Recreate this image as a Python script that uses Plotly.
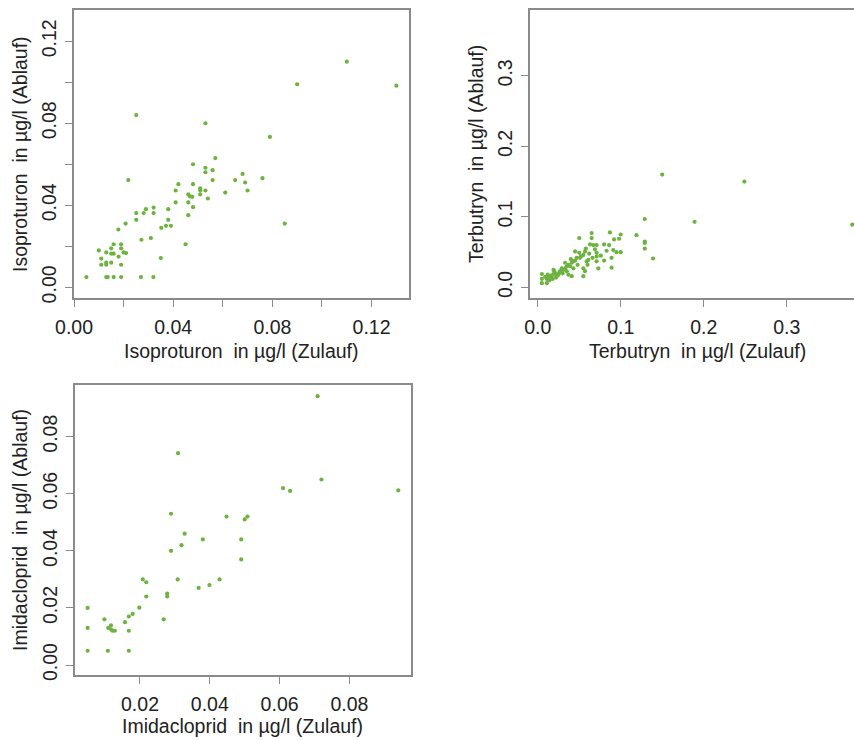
import plotly.graph_objects as go

# ---- data: Isoproturon (Zulauf, Ablauf) in µg/l ----
iso_zulauf = [0.005, 0.013, 0.0136, 0.016, 0.019, 0.027, 0.032,
              0.010, 0.013, 0.015, 0.016, 0.019, 0.019, 0.020, 0.021, 0.016, 0.015, 0.018, 0.011, 0.011, 0.013, 0.013, 0.015, 0.019,
              0.035, 0.0179, 0.0208, 0.0272, 0.031, 0.045, 0.0251, 0.038, 0.0352, 0.0371, 0.0391, 0.0251, 0.0281, 0.0321,
              0.029, 0.0321, 0.038, 0.048, 0.0461, 0.041, 0.0461, 0.054, 0.0461, 0.0468, 0.0477, 0.0509, 0.041, 0.0509,
              0.0509, 0.053, 0.0421, 0.048, 0.0219, 0.0559, 0.053, 0.053, 0.0559, 0.048, 0.057, 0.061, 0.065, 0.068, 0.069,
              0.070, 0.076, 0.079, 0.085, 0.0251, 0.053, 0.090, 0.110, 0.130]
iso_ablauf = [0.005, 0.005, 0.005, 0.005, 0.005, 0.005, 0.005,
              0.018, 0.017, 0.019, 0.021, 0.021, 0.019, 0.017, 0.0167, 0.0164, 0.0164, 0.015, 0.014, 0.011, 0.012, 0.011, 0.012, 0.011,
              0.0143, 0.0282, 0.0311, 0.0232, 0.024, 0.021, 0.0329, 0.0329, 0.029, 0.030, 0.030, 0.0362, 0.0362, 0.0362,
              0.0381, 0.0389, 0.0381, 0.0391, 0.0352, 0.0414, 0.0414, 0.0433, 0.0453, 0.0443, 0.0441, 0.0453, 0.0472, 0.0482,
              0.0472, 0.0472, 0.0503, 0.0503, 0.0523, 0.0523, 0.0583, 0.0561, 0.0571, 0.060, 0.063, 0.0462, 0.0523, 0.0553, 0.0511,
              0.0472, 0.0532, 0.0733, 0.0311, 0.084, 0.080, 0.099, 0.110, 0.0983]

# ---- data: Terbutryn (Zulauf, Ablauf) in µg/l ----
ter_zulauf = [0.005, 0.005, 0.005, 0.011, 0.011, 0.013, 0.015, 0.017, 0.019, 0.021, 0.019, 0.020, 0.023, 0.025, 0.012,
              0.016, 0.018, 0.014, 0.022, 0.009,
              0.027, 0.029, 0.031, 0.033, 0.035, 0.037, 0.039, 0.041, 0.043, 0.045, 0.035, 0.037, 0.041, 0.043, 0.047,
              0.050, 0.051, 0.055, 0.057, 0.059, 0.055, 0.057, 0.055, 0.060, 0.061, 0.063, 0.065, 0.065, 0.067, 0.071,
              0.071, 0.071, 0.066, 0.071, 0.073, 0.080, 0.080, 0.086, 0.087, 0.089, 0.089, 0.091, 0.092, 0.095, 0.098,
              0.100, 0.100, 0.050, 0.045, 0.052, 0.030, 0.026, 0.033, 0.040, 0.048, 0.062, 0.058, 0.069, 0.076, 0.083,
              0.119, 0.129, 0.129, 0.129, 0.129, 0.139, 0.150, 0.189, 0.249, 0.379]
ter_ablauf = [0.019, 0.012, 0.006, 0.006, 0.012, 0.014, 0.016, 0.017, 0.019, 0.020, 0.025, 0.023, 0.016, 0.018, 0.018,
              0.013, 0.012, 0.010, 0.014, 0.015,
              0.023, 0.027, 0.025, 0.027, 0.030, 0.032, 0.030, 0.035, 0.037, 0.038, 0.023, 0.018, 0.016, 0.027, 0.042,
              0.049, 0.042, 0.046, 0.051, 0.037, 0.027, 0.023, 0.016, 0.032, 0.039, 0.061, 0.077, 0.070, 0.060, 0.060,
              0.049, 0.044, 0.042, 0.037, 0.027, 0.038, 0.061, 0.060, 0.078, 0.042, 0.028, 0.053, 0.068, 0.050, 0.069,
              0.075, 0.050, 0.070, 0.051, 0.044, 0.020, 0.021, 0.035, 0.040, 0.032, 0.048, 0.055, 0.054, 0.045, 0.052,
              0.074, 0.097, 0.065, 0.063, 0.055, 0.041, 0.160, 0.093, 0.150, 0.089]

# ---- data: Imidacloprid (Zulauf, Ablauf) in µg/l ----
imi_zulauf = [0.005, 0.005, 0.005, 0.0098, 0.0108, 0.0109, 0.0117, 0.0117, 0.0121, 0.0128, 0.0157, 0.0168, 0.0168,
              0.0168, 0.0179, 0.0198, 0.0208, 0.0218, 0.0218, 0.0268, 0.0278, 0.0278, 0.0289, 0.0289, 0.0308, 0.0309,
              0.0319, 0.0328, 0.0368, 0.038, 0.0399, 0.0428, 0.0448, 0.049, 0.049, 0.050, 0.0508, 0.061, 0.063,
              0.0709, 0.072, 0.094]
imi_ablauf = [0.020, 0.013, 0.005, 0.016, 0.005, 0.013, 0.0139, 0.0125, 0.012, 0.012, 0.015, 0.017, 0.012,
              0.005, 0.0179, 0.0201, 0.030, 0.029, 0.024, 0.016, 0.025, 0.024, 0.040, 0.053, 0.030, 0.0742,
              0.042, 0.046, 0.027, 0.044, 0.028, 0.030, 0.052, 0.044, 0.037, 0.051, 0.052, 0.062, 0.061,
              0.0942, 0.065, 0.0612]

# tick values / labels
iso_ticks = [0.0, 0.02, 0.04, 0.06, 0.08, 0.10, 0.12]
iso_ticktext = ["0.00", "", "0.04", "", "0.08", "", "0.12"]
ter_ticks = [0.0, 0.1, 0.2, 0.3]
ter_ticktext = ["0.0", "0.1", "0.2", "0.3"]
imi_xticks = [0.02, 0.04, 0.06, 0.08]
imi_xticktext = ["0.02", "0.04", "0.06", "0.08"]
imi_yticks = [0.0, 0.02, 0.04, 0.06, 0.08]
imi_yticktext = ["0.00", "0.02", "0.04", "0.06", "0.08"]

GREEN = "#6cb33f"
GRAY = "#8a8a8a"
FONT = "Liberation Sans, Arial, sans-serif"
TXT = "#222222"
FS = 19.5

W, H = 854, 740

def dx(px):
    return px / W

def dy(py):
    return 1 - py / H

fig = go.Figure()
marker = dict(color=GREEN, size=4.2, line=dict(width=0))
fig.add_trace(go.Scatter(x=iso_zulauf, y=iso_ablauf, mode="markers", marker=marker, xaxis="x", yaxis="y"))
fig.add_trace(go.Scatter(x=ter_zulauf, y=ter_ablauf, mode="markers", marker=marker, xaxis="x2", yaxis="y2"))
fig.add_trace(go.Scatter(x=imi_zulauf, y=imi_ablauf, mode="markers", marker=marker, xaxis="x3", yaxis="y3"))

def ax(domain, rng, tickvals, ticktext, anchor, mirror=True, yaxis=False):
    d = dict(domain=domain, range=rng, tickvals=tickvals, ticktext=ticktext, anchor=anchor,
             showgrid=False, zeroline=False, showline=True, linecolor=GRAY, linewidth=1.5,
             mirror=mirror, ticks="outside", ticklen=7, tickwidth=1.2, tickcolor=GRAY,
             tickfont=dict(family=FONT, size=FS, color=TXT), automargin=False,
             ticklabelstandoff=1 if yaxis else 4)
    if yaxis:
        d["tickangle"] = -90
    return d

layout = dict(
    width=W, height=H, margin=dict(l=0, r=0, t=0, b=0, autoexpand=False),
    paper_bgcolor="white", plot_bgcolor="white", showlegend=False,
    xaxis=ax([dx(74), dx(409)], [0.0, 0.1351], iso_ticks, iso_ticktext, "y"),
    yaxis=ax([dy(298), dy(10)], [-0.0052, 0.1352], iso_ticks, iso_ticktext, "x", yaxis=True),
    xaxis2=ax([dx(530), 1.0], [-0.0093, 0.3811], ter_ticks, ter_ticktext, "y2"),
    yaxis2=ax([dy(298), dy(10)], [-0.0150, 0.3933], ter_ticks, ter_ticktext, "x2", mirror=False, yaxis=True),
    xaxis3=ax([dx(75), dx(411)], [0.00138, 0.09765], imi_xticks, imi_xticktext, "y3"),
    yaxis3=ax([dy(675), dy(385)], [-0.0035, 0.0981], imi_yticks, imi_yticktext, "x3", yaxis=True),
)
fig.update_layout(**layout)

def title(text, x, y, angle=0):
    fig.add_annotation(text=text, x=dx(x), y=dy(y), xref="paper", yref="paper", showarrow=False,
                       textangle=angle, xanchor="center", yanchor="middle",
                       font=dict(family=FONT, size=FS, color=TXT))

title("Isoproturon\u00a0 in µg/l (Zulauf)", 241.5, 351)
title("Isoproturon\u00a0 in µg/l (Ablauf)", 20, 154, -90)
title("Terbutryn\u00a0 in µg/l (Zulauf)", 697, 351)
title("Terbutryn\u00a0 in µg/l (Ablauf)", 476, 154, -90)
title("Imidacloprid\u00a0 in µg/l (Zulauf)", 243, 726)
title("Imidacloprid\u00a0 in µg/l (Ablauf)", 20, 530, -90)

fig.write_html("out.html")
